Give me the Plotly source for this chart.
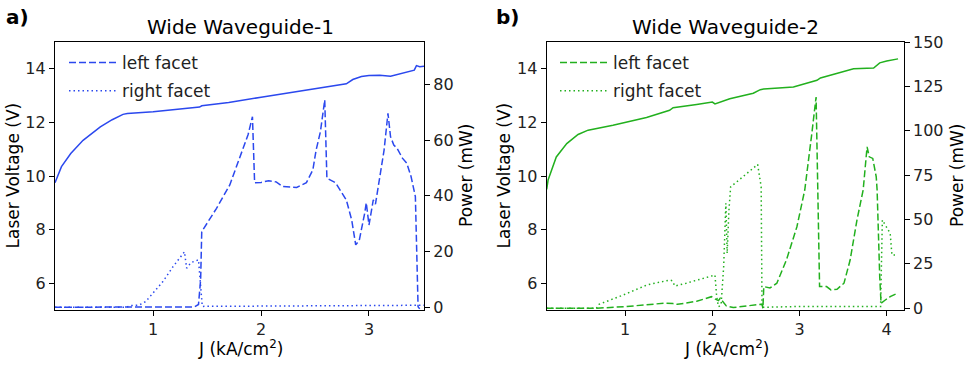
import plotly.graph_objects as go
from plotly.subplots import make_subplots

# ---- Wide Waveguide-1 (blue) ----
j1_v = [0.09, 0.15, 0.236, 0.35, 0.51, 0.62, 0.72, 0.76, 1.0, 1.2, 1.43, 1.45, 1.7, 2.0, 2.3, 2.6, 2.79,
        2.85, 2.93, 3.0, 3.1, 3.2, 3.3, 3.38, 3.42, 3.44, 3.47, 3.51]
v1 = [9.75, 10.35, 10.84, 11.33, 11.83, 12.1, 12.3, 12.33, 12.4, 12.48, 12.57, 12.62, 12.74, 12.94, 13.13, 13.32,
      13.44, 13.6, 13.71, 13.75, 13.76, 13.72, 13.83, 13.91, 13.95, 14.12, 14.08, 14.1]

j1_left = [0.09, 0.5, 1.0, 1.38, 1.42, 1.44, 1.45, 1.587, 1.71, 1.82, 1.88, 1.92, 1.94, 2.0, 2.07, 2.14, 2.2,
           2.33, 2.42, 2.48, 2.51, 2.55, 2.59, 2.61, 2.69, 2.79, 2.84, 2.877, 2.91, 2.96, 2.975, 3.0, 3.04,
           3.06, 3.095, 3.14, 3.176, 3.2, 3.23, 3.26, 3.31, 3.35, 3.39, 3.43, 3.455, 3.47]
p1_left = [0.0, 0.0, 0.0, 0.1, 1.0, 10.0, 27.1, 35.5, 43.9, 55.2, 62.0, 68.4, 44.7, 44.8, 45.4, 45.0, 43.3,
           43.0, 44.7, 49.3, 56.4, 63.0, 74.4, 46.3, 44.7, 38.5, 31.3, 22.4, 24.0, 33.7, 37.5, 29.5, 38.5,
           37.0, 45.1, 56.4, 69.6, 61.2, 58.2, 57.1, 53.5, 51.7, 46.9, 39.7, 0.2, -0.6]

j1_right = [0.09, 0.5, 0.75, 0.8, 0.87, 0.93, 1.0, 1.09, 1.185, 1.26, 1.29, 1.31, 1.35, 1.42, 1.43, 1.455,
            2.0, 2.5, 3.0, 3.3, 3.51]
p1_right = [0.0, 0.0, 0.0, 0.6, 0.8, 2.0, 5.0, 9.2, 14.6, 18.2, 19.9, 14.0, 16.0, 17.0, 12.0, 0.3,
            0.4, 0.5, 0.6, 0.8, 0.7]

# ---- Wide Waveguide-2 (green) ----
j2_v = [0.1, 0.116, 0.21, 0.33, 0.46, 0.575, 0.86, 1.245, 1.51, 1.55, 1.82, 2.0, 2.03, 2.14, 2.2, 2.47,
        2.55, 2.59, 2.93, 3.2, 3.24, 3.62, 3.85, 3.92, 4.0, 4.13]
v2 = [9.5, 9.85, 10.71, 11.21, 11.55, 11.71, 11.89, 12.18, 12.45, 12.55, 12.67, 12.76, 12.69, 12.8, 12.88,
      13.09, 13.22, 13.25, 13.32, 13.57, 13.66, 14.0, 14.03, 14.22, 14.29, 14.37]

j2_left = [0.1, 0.67, 1.0, 1.44, 1.55, 1.6, 1.82, 1.99, 2.03, 2.07, 2.09, 2.11, 2.13, 2.16, 2.24, 2.35, 2.51,
           2.57, 2.58, 2.59, 2.66, 2.74, 2.85, 2.97, 3.06, 3.1, 3.14, 3.19, 3.23, 3.31, 3.36, 3.43, 3.51, 3.58,
           3.66, 3.73, 3.77, 3.775, 3.8, 3.84, 3.88, 3.89, 3.92, 3.935, 3.98, 4.04, 4.12]
p2_left = [0.0, 0.0, 0.9, 2.8, 2.6, 2.2, 3.9, 6.5, 5.3, 4.3, 5.6, 4.5, 2.8, 1.3, 0.4, 0.9, 1.8,
           2.3, 0.0, 12.2, 11.4, 14.1, 27.2, 45.9, 66.6, 81.6, 98.0, 119.0, 12.2, 12.2, 10.3, 10.7, 14.1, 27.0,
           50.0, 66.6, 87.2, 90.9, 85.3, 84.4, 74.0, 66.6, 17.8, 2.8, 4.5, 6.5, 8.4]

j2_right = [0.1, 0.67, 0.7, 0.98, 1.25, 1.51, 1.54, 1.57, 1.7, 1.89, 2.03, 2.05, 2.07, 2.1, 2.13, 2.155,
            2.17, 2.19, 2.21, 2.3, 2.4, 2.52, 2.56, 2.565, 2.57, 3.0, 3.5, 3.93, 3.95, 4.0, 4.04, 4.06, 4.12]
p2_right = [0.0, 0.0, 2.2, 7.5, 13.1, 15.9, 15.5, 12.5, 14.1, 16.9, 18.7, 6.5, 0.9, 1.8, 23.4, 59.1,
            30.9, 55.0, 68.4, 72.0, 76.0, 81.0, 68.4, 42.2, 0.5, 1.0, 1.0, 1.0, 49.7, 45.9, 42.2, 30.0, 30.0]

blue = "#2b48ee"
green = "#22b01e"
dash = "7px,3px"
dot = "1.5px,3px"
font = "DejaVu Sans"

fig = make_subplots(rows=1, cols=2, specs=[[{"secondary_y": True}, {"secondary_y": True}]])

panels = [
    (1, blue, j1_v, v1, j1_left, p1_left, j1_right, p1_right),
    (2, green, j2_v, v2, j2_left, p2_left, j2_right, p2_right),
]
for col, c, jv, v, jl, pl, jr, pr in panels:
    leg = "legend" if col == 1 else "legend2"
    fig.add_trace(go.Scatter(x=jv, y=v, mode="lines", line=dict(color=c, width=1.5), showlegend=False),
                  row=1, col=col, secondary_y=False)
    fig.add_trace(go.Scatter(x=jl, y=pl, mode="lines", name="left facet", legendgroup="l%d" % col,
                             line=dict(color=c, width=1.5, dash=dash), legend=leg),
                  row=1, col=col, secondary_y=True)
    fig.add_trace(go.Scatter(x=jr, y=pr, mode="lines", name="right facet", legendgroup="r%d" % col,
                             line=dict(color=c, width=1.5, dash=dot), legend=leg),
                  row=1, col=col, secondary_y=True)

ax = dict(showline=True, linecolor="black", linewidth=1.2, ticks="outside", ticklen=5, tickwidth=1,
          tickcolor="black", showgrid=False, zeroline=False, automargin=False,
          tickfont=dict(size=16, color="#222"))

W, H = 971, 374
legfont = dict(size=17, color="#222")
fig.update_layout(
    width=W, height=H, margin=dict(l=0, r=0, t=0, b=0, autoexpand=False),
    plot_bgcolor="white", paper_bgcolor="white", font=dict(family=font, color="#222"),
    xaxis=dict(domain=[55 / W, 424 / W], range=[0.09, 3.51], tickvals=[1, 2, 3], mirror=True, **ax),
    xaxis2=dict(domain=[546.7 / W, 903.7 / W], range=[0.1, 4.195], tickvals=[1, 2, 3, 4], mirror=True, **ax),
    yaxis=dict(domain=[1 - 310 / H, 1 - 42 / H], range=[5.0, 15.0], tickvals=[6, 8, 10, 12, 14], **ax),
    yaxis2=dict(range=[-1, 95.2], tickvals=[0, 20, 40, 60, 80], side="right", **ax),
    yaxis3=dict(domain=[1 - 310 / H, 1 - 42 / H], range=[5.0, 15.0], tickvals=[6, 8, 10, 12, 14], **ax),
    yaxis4=dict(range=[-1, 150], tickvals=[0, 25, 50, 75, 100, 125, 150], side="right", **ax),
    legend=dict(x=64 / W, y=1 - 45 / H, xanchor="left", yanchor="top", bgcolor="rgba(0,0,0,0)",
                font=legfont, tracegroupgap=3, itemwidth=48),
    legend2=dict(x=555 / W, y=1 - 45 / H, xanchor="left", yanchor="top", bgcolor="rgba(0,0,0,0)",
                 font=legfont, tracegroupgap=3, itemwidth=48),
    showlegend=True,
)


def note(txt, x, y, size, angle=0, anchor="center"):
    fig.add_annotation(text=txt, x=x / W, y=1 - y / H, xref="paper", yref="paper", showarrow=False,
                       font=dict(size=size, color="black"), textangle=angle,
                       xanchor=anchor, yanchor="middle")


note("Wide Waveguide-1", 240, 27, 20)
note("Wide Waveguide-2", 725, 27, 20)
note("<b>a)</b>", 4, 17, 20, anchor="left")
note("<b>b)</b>", 494, 17, 20, anchor="left")
note("Laser Voltage (V)", 12.5, 176, 17, -90)
note("Power (mW)", 466, 176, 17, -90)
note("Laser Voltage (V)", 503.5, 176, 17, -90)
note("Power (mW)", 957, 176, 17, -90)
note("J (kA/cm<sup>2</sup>)", 240, 348, 17)
note("J (kA/cm<sup>2</sup>)", 726, 348, 17)

# page body has a default 8px margin; drop it so the figure sits at the window's corner
fig.write_html("out.html", config={"displayModeBar": False},
               post_script="document.body.style.margin='0';")
